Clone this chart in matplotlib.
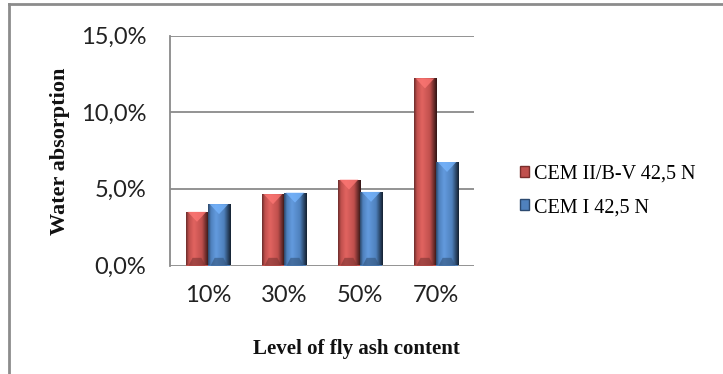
import numpy as np
import matplotlib
matplotlib.use("Agg")
import matplotlib.pyplot as plt
from matplotlib.lines import Line2D
from matplotlib.patches import Polygon, Patch
from matplotlib.colors import LinearSegmentedColormap

# Data
categories = ["10%", "30%", "50%", "70%"]
series_names = ["CEM II/B-V 42,5 N", "CEM I 42,5 N"]
cem2_values = [3.5, 4.65, 5.6, 12.2]
cem1_values = [4.0, 4.75, 4.8, 6.75]
y_ticks = [0, 5, 10, 15]
y_tick_labels = ["0,0%", "5,0%", "10,0%", "15,0%"]

red = "#C0504D"
blue = "#4F81BD"

fig = plt.figure(figsize=(7.23, 3.74), dpi=100)
ax = fig.add_axes([170 / 723, 1 - 265.5 / 374, 304 / 723, 230 / 374])

x = np.arange(len(categories))
w = 0.29


def shaded_cmap(base):
    c = np.array(matplotlib.colors.to_rgb(base))
    dark = c * 0.55
    light = np.clip(c * 1.12 + 0.04, 0, 1)
    darkest = c * 0.25
    return LinearSegmentedColormap.from_list(
        "b", [(0.0, dark), (0.12, c), (0.35, light), (0.7, c), (0.88, dark), (1.0, darkest)])


def bevel_bars(xs, values, color):
    bars = ax.bar(xs, values, width=w, color=color, edgecolor="none", zorder=3)
    cmap = shaded_cmap(color)
    grad = np.linspace(0, 1, 64).reshape(1, -1)
    c = np.array(matplotlib.colors.to_rgb(color))
    for b in bars:
        x0, y0 = b.get_x(), b.get_y()
        bw, bh = b.get_width(), b.get_height()
        im = ax.imshow(grad, cmap=cmap, extent=[x0, x0 + bw, y0, y0 + bh],
                       aspect="auto", zorder=4, interpolation="bicubic")
        im.set_clip_path(b)
        tri_h = 0.65
        top = y0 + bh
        tri = Polygon([[x0 + bw * 0.08, top], [x0 + bw * 0.92, top],
                       [x0 + bw * 0.5, top - tri_h]], closed=True,
                      facecolor=np.clip(c * 1.25 + 0.08, 0, 1), edgecolor="none",
                      alpha=0.75, zorder=5)
        ax.add_patch(tri)
        bot = Polygon([[x0 + bw * 0.12, y0], [x0 + bw * 0.88, y0],
                       [x0 + bw * 0.7, y0 + 0.5], [x0 + bw * 0.3, y0 + 0.5]],
                      closed=True, facecolor=c * 0.65, edgecolor="none",
                      alpha=0.6, zorder=5)
        ax.add_patch(bot)
    return bars


bevel_bars(x - w / 2, cem2_values, red)
bevel_bars(x + w / 2, cem1_values, blue)

ax.set_xlim(-0.5, 3.5)
ax.set_ylim(0, 15)
ax.set_yticks(y_ticks)
ax.set_yticklabels(y_tick_labels)
ax.set_xticks(x)
ax.set_xticklabels(categories)
for y in y_ticks:
    ax.axhline(y, color="#8a8a8a", lw=1.3, zorder=1)
for s in ["top", "right", "bottom"]:
    ax.spines[s].set_visible(False)
ax.spines["left"].set_color("#8a8a8a")
ax.spines["left"].set_linewidth(1.3)
ax.tick_params(length=0)
ax.tick_params(axis="y", pad=17, labelsize=17, labelcolor="#222222")
ax.tick_params(axis="x", pad=14, labelsize=17, labelcolor="#222222")
for lab in ax.get_xticklabels() + ax.get_yticklabels():
    lab.set_fontfamily("Lato")

fig.text(60 / 723, 1 - 151 / 374, "Water absorption", rotation=90, ha="center",
         va="center", family="Liberation Serif", fontweight="bold", fontsize=16,
         color="#111111")
fig.text(356 / 723, 1 - 349 / 374, "Level of fly ash content", ha="center",
         va="center", family="Liberation Serif", fontweight="bold", fontsize=15,
         color="#111111")

handles = [Patch(facecolor=red, edgecolor="#7a2e2c"), Patch(facecolor=blue, edgecolor="#2c4a70")]
leg = fig.legend(handles, series_names, loc="center left",
                 bbox_to_anchor=(502 / 723, 1 - 191 / 374), frameon=False,
                 handlelength=0.45, handleheight=0.45, handletextpad=0.25,
                 labelspacing=0.7, prop={"family": "Liberation Serif", "size": 14.5})

# outer frame
fig.add_artist(Line2D([9 / 723, 9 / 723], [0, 1 - 4 / 374], transform=fig.transFigure,
                      color="#8c8c8c", lw=2))
fig.add_artist(Line2D([9 / 723, 1], [1 - 4 / 374, 1 - 4 / 374], transform=fig.transFigure,
                      color="#8c8c8c", lw=2))

fig.savefig("out.png", dpi=100)
